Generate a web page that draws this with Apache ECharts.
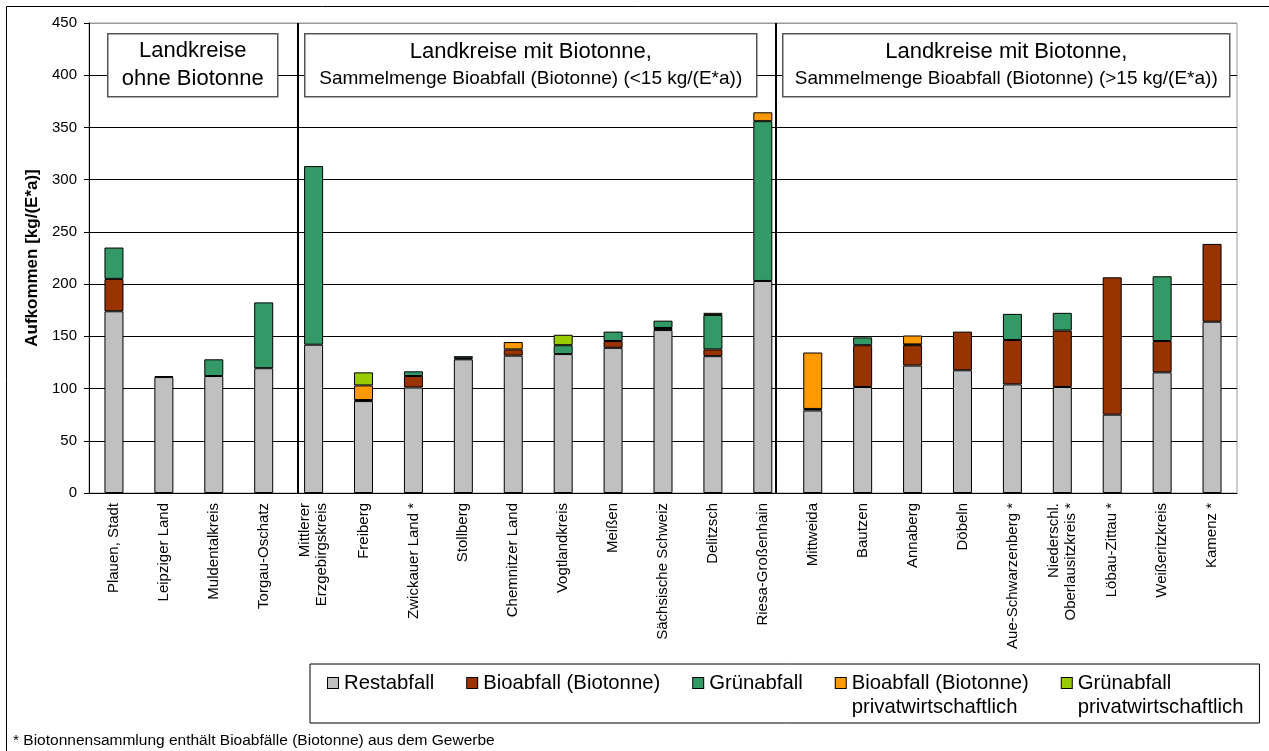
<!DOCTYPE html>
<html>
<head>
<meta charset="utf-8">
<title>Aufkommen Rest-, Bio- und Grünabfall</title>
<script src="https://cdn.jsdelivr.net/npm/echarts@6/dist/echarts.min.js"></script>
<style>
  html, body { margin: 0; padding: 0; background: #fff; }
  #chart { width: 1269px; height: 751px; }
</style>
</head>
<body>
<div id="chart"></div>
<script>
const FONT = '"Liberation Sans", Arial, sans-serif'

const categories = [
  'Plauen, Stadt', 'Leipziger Land', 'Muldentalkreis', 'Torgau-Oschatz',
  'Mittlerer\nErzgebirgskreis', 'Freiberg', 'Zwickauer Land *', 'Stollberg',
  'Chemnitzer Land', 'Vogtlandkreis', 'Meißen', 'Sächsische Schweiz', 'Delitzsch',
  'Riesa-Großenhain', 'Mittweida', 'Bautzen', 'Annaberg', 'Döbeln',
  'Aue-Schwarzenberg *', 'Niederschl.\nOberlausitzkreis *', 'Löbau-Zittau *',
  'Weißeritzkreis', 'Kamenz *'
]

const seriesNames = [
  'Restabfall', 'Bioabfall (Biotonne)', 'Grünabfall',
  'Bioabfall (Biotonne)\nprivatwirtschaftlich', 'Grünabfall\nprivatwirtschaftlich'
]
const seriesColors = ['#C0C0C0', '#993300', '#339966', '#FF9900', '#99CC00']

// kg/(E*a)
const restabfall = [174, 111, 112, 119.5, 142, 88, 101, 128, 131.5, 133, 139, 156, 131, 203, 79, 101.5, 122, 117.5, 104, 101.5, 75, 115.5, 164]
const bioabfall = [31, 1, null, null, null, 1, 11, 1, 6, null, 6.5, 2, 6.5, null, 1.5, 40, 19.5, 37, 42.5, 54, 131.5, 30, 74.5]
const gruenabfall = [30, null, 16, 63, 171, null, 4.5, 2, null, 8.5, 9, 7, 33, 153, null, 7.5, 0.8, null, 25, 17, null, 62, null]
const bioPrivat = [null, null, null, null, null, 14, null, null, 7, null, null, null, null, 8.5, 54, null, 8.5, null, null, null, null, null, null]
const gruenPrivat = [null, null, null, null, null, 12.5, null, null, null, 10, null, null, 2, null, null, null, null, null, null, null, null, null, null]

const yTicks = [0, 50, 100, 150, 200, 250, 300, 350, 400, 450]
// Trennlinien zwischen den Gruppen (Position in Kategorien-Einheiten)
const separators = [4.18, 13.75]

const seriesData = [restabfall, bioabfall, gruenabfall, bioPrivat, gruenPrivat]

const chart = echarts.init(document.getElementById('chart'))

const legendRich = { t: { fontSize: 20.3, lineHeight: 24, fontFamily: FONT, color: '#000' }, g: { width: 6 }, g2: { width: 16 } }
seriesColors.forEach((c, i) => {
  legendRich['m' + i] = { width: 10, height: 10, backgroundColor: c, borderColor: '#000', borderWidth: 1 }
})

function box(x, y, w, h, rich, text) {
  return {
    type: 'group',
    left: x, top: y, z: 100,
    children: [
      { type: 'rect', z: 100, shape: { x: 0, y: 0, width: w, height: h }, style: { fill: '#fff', stroke: '#555', lineWidth: 1.5 } },
      { type: 'text', z: 101, x: w / 2, y: h / 2, style: { text, rich, align: 'center', verticalAlign: 'middle', fill: '#000' } }
    ]
  }
}

const boxRich = {
  a: { fontSize: 22, lineHeight: 28, fontFamily: FONT, color: '#000' },
  b: { fontSize: 19, lineHeight: 27, fontFamily: FONT, color: '#000' }
}

chart.setOption({
  animation: false,
  textStyle: { fontFamily: FONT, color: '#000' },
  grid: { left: 89, right: 32, top: 23, bottom: 258, show: true, borderColor: '#999', borderWidth: 1 },
  legend: {
    left: 310, top: 664,
    padding: [7, 16, 4, 12],
    itemWidth: 0, itemHeight: 0, itemGap: 27,
    borderColor: '#000', borderWidth: 1,
    selectedMode: false,
    data: seriesNames,
    formatter: (name) => {
      const i = seriesNames.indexOf(name)
      const lines = name.split('\n')
      return `{m${i}|}{g|}{t|${lines[0]}}\n{g2|}{t|${lines[1] || ' '}}`
    },
    textStyle: { rich: legendRich, lineHeight: 24 }
  },
  xAxis: [{
    type: 'category',
    data: categories,
    axisLine: { lineStyle: { color: '#000' } },
    axisTick: { length: 5, lineStyle: { color: '#000' } },
    axisLabel: { rotate: 90, fontSize: 15, margin: 10, color: '#000', interval: 0, lineHeight: 17 }
  }, {
    type: 'value', min: 0, max: categories.length, show: false, position: 'top'
  }],
  yAxis: {
    type: 'value',
    min: 0, max: 450, interval: 50,
    name: 'Aufkommen [kg/(E*a)]',
    nameLocation: 'middle', nameGap: 45, nameRotate: 90,
    nameTextStyle: { fontSize: 17, fontWeight: 'bold', color: '#000' },
    axisLine: { show: true, lineStyle: { color: '#000' } },
    axisTick: { show: true, length: 5, lineStyle: { color: '#000' } },
    axisLabel: { fontSize: 15, margin: 12, color: '#000', formatter: (v) => yTicks.includes(v) ? String(v) : '' },
    splitLine: { lineStyle: { color: ['#000', '#000', '#000', '#000', '#000', '#000', '#000', '#000', '#000', '#999'], width: 1 } }
  },
  series: seriesNames.map((name, i) => ({
    name,
    type: 'bar',
    stack: 'total',
    barWidth: 19,
    data: seriesData[i],
    itemStyle: { color: seriesColors[i], borderColor: '#000', borderWidth: 1 }
  })).concat([{
    type: 'scatter',
    xAxisIndex: 1,
    data: [],
    silent: true,
    markLine: {
      silent: true,
      symbol: 'none',
      label: { show: false },
      lineStyle: { color: '#000', width: 2, type: 'solid' },
      data: separators.map((x) => ({ xAxis: x }))
    }
  }]),
  graphic: [
    { type: 'rect', shape: { x: 6.5, y: 6.5, width: 1400, height: 900 }, style: { fill: 'none', stroke: '#000', lineWidth: 1 }, z: -1, silent: true },
    box(107, 33, 170, 63, boxRich, '{a|Landkreise}\n{a|ohne Biotonne}'),
    box(304, 33, 452, 63, boxRich, '{a|Landkreise mit Biotonne,}\n{b|Sammelmenge Bioabfall (Biotonne) (<15 kg/(E*a))}'),
    box(782, 33, 447, 63, boxRich, '{a|Landkreise mit Biotonne,}\n{b|Sammelmenge Bioabfall (Biotonne) (>15 kg/(E*a))}'),
    { type: 'text', left: 13, top: 733, style: { text: '* Biotonnensammlung enthält Bioabfälle (Biotonne) aus dem Gewerbe', fontSize: 15.5, fontFamily: FONT, fill: '#000' } }
  ]
})
</script>
</body>
</html>
